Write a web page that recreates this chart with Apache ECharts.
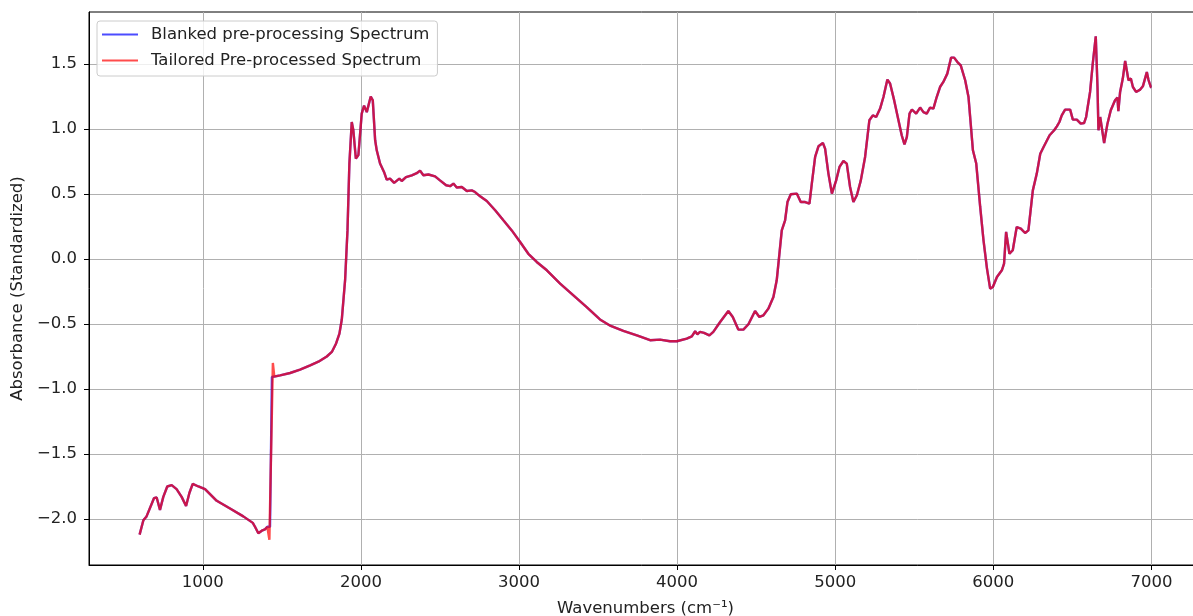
<!DOCTYPE html>
<html>
<head>
<meta charset="utf-8">
<script src="https://cdn.jsdelivr.net/npm/echarts@6.0.0/dist/echarts.min.js"></script>
<style>
html,body{margin:0;padding:0;background:#fff;}
#chart{width:1193px;height:616px;}
</style>
</head>
<body>
<div id="chart"></div>
<script>
// ---- Data ----
const seriesNames = ['Blanked pre-processing Spectrum', 'Tailored Pre-processed Spectrum'];

// Shared spectrum before the step near 1430 cm-1
const lowWn  = [600,624,644,691,708,729,750,775,803,834,866,894,915,936,972,1014,1088,1172,1256,1316,1330,1351,1373,1393,1408];
const lowAbs = [-2.12,-2.01,-1.98,-1.84,-1.835,-1.93,-1.83,-1.75,-1.74,-1.77,-1.83,-1.90,-1.80,-1.73,-1.75,-1.77,-1.86,-1.92,-1.98,-2.03,-2.06,-2.11,-2.09,-2.08,-2.06];

// Step region, different in each series
const blankStepWn  = [1425,1431,1437];
const blankStepAbs = [-2.06,-2.06,-0.908];
const tailStepWn   = [1419,1421,1443,1452];
const tailStepAbs  = [-2.07,-2.16,-0.80,-0.905];

// Shared spectrum after the step
const highWn = [1489,1552,1615,1679,1731,1784,1816,1843,1864,1879,1900,1915,1927,1942,1952,1968,1984,2005,2020,2037,2062,2075,2090,2100,2121,2146,2163,2184,2210,2243,2258,2285,2322,2353,2374,2395,2427,2469,2500,2539,2564,2585,2606,2638,2670,2701,2722,2754,2796,2849,2901,2954,3007,3059,3112,3176,3260,3344,3428,3512,3580,3660,3750,3829,3892,3955,3998,4061,4093,4114,4128,4145,4170,4204,4229,4272,4324,4352,4387,4419,4451,4493,4520,4546,4577,4609,4630,4647,4662,4683,4698,4719,4757,4782,4810,4837,4852,4873,4894,4922,4936,4957,4979,5006,5027,5052,5073,5094,5115,5137,5162,5189,5216,5238,5259,5284,5305,5330,5347,5373,5400,5421,5438,5453,5470,5485,5512,5537,5558,5579,5600,5621,5642,5663,5684,5709,5733,5752,5773,5794,5822,5843,5871,5892,5917,5938,5960,5980,5997,6023,6054,6068,6081,6102,6123,6148,6174,6201,6222,6250,6275,6297,6318,6356,6385,6402,6418,6433,6454,6486,6503,6528,6553,6574,6587,6612,6629,6648,6659,6665,6676,6686,6701,6722,6743,6770,6785,6791,6802,6819,6834,6855,6870,6883,6903,6929,6946,6971,6981,6996,7000];
const highAbs = [-0.895,-0.877,-0.851,-0.818,-0.79,-0.75,-0.715,-0.65,-0.574,-0.466,-0.16,0.22,0.734,1.054,0.99,0.772,0.80,1.118,1.18,1.13,1.25,1.22,0.913,0.836,0.734,0.67,0.61,0.618,0.585,0.618,0.60,0.63,0.644,0.66,0.68,0.644,0.65,0.636,0.605,0.567,0.56,0.58,0.55,0.554,0.523,0.528,0.515,0.482,0.446,0.375,0.298,0.22,0.131,0.04,-0.023,-0.087,-0.19,-0.28,-0.37,-0.465,-0.515,-0.553,-0.59,-0.625,-0.62,-0.633,-0.633,-0.612,-0.595,-0.556,-0.579,-0.561,-0.569,-0.587,-0.561,-0.485,-0.40,-0.446,-0.543,-0.543,-0.502,-0.40,-0.446,-0.433,-0.382,-0.292,-0.164,0.04,0.22,0.298,0.438,0.498,0.503,0.438,0.438,0.426,0.58,0.785,0.867,0.892,0.849,0.657,0.503,0.605,0.708,0.754,0.734,0.554,0.438,0.49,0.605,0.785,1.067,1.105,1.092,1.157,1.246,1.38,1.35,1.22,1.067,0.95,0.882,0.938,1.118,1.15,1.118,1.165,1.13,1.118,1.165,1.157,1.246,1.323,1.362,1.426,1.549,1.549,1.515,1.49,1.375,1.246,0.836,0.734,0.40,0.144,-0.074,-0.228,-0.215,-0.138,-0.087,-0.035,0.208,0.04,0.067,0.246,0.234,0.20,0.22,0.528,0.657,0.81,0.862,0.952,0.99,1.02,1.054,1.105,1.149,1.149,1.072,1.072,1.041,1.046,1.092,1.285,1.503,1.713,1.323,0.99,1.092,1.092,0.892,1.041,1.144,1.221,1.241,1.138,1.285,1.388,1.523,1.375,1.388,1.323,1.285,1.303,1.328,1.438,1.38,1.323,1.32];

const xTicks = [1000,2000,3000,4000,5000,6000,7000];
const yTicks = [-2.0,-1.5,-1.0,-0.5,0.0,0.5,1.0,1.5];
const xName = 'Wavenumbers (cm\u207B\u00B9)';
const yName = 'Absorbance (Standardized)';

// ---- Build series ----
function pairs(xs, ys){ return xs.map((x,i)=>[x, ys[i]]); }
const blankedData = pairs(lowWn, lowAbs).concat(pairs(blankStepWn, blankStepAbs), pairs(highWn, highAbs));
const tailoredData = pairs(lowWn, lowAbs).concat(pairs(tailStepWn, tailStepAbs), pairs(highWn, highAbs));

const FONT = 'DejaVu Sans';
const FS = 16.5;
const minus = v => (v < 0 ? '\u2212' : '') + Math.abs(v).toFixed(1);

const chart = echarts.init(document.getElementById('chart'), null, {renderer:'canvas'});
chart.setOption({
  animation: false,
  backgroundColor: '#ffffff',
  textStyle: {fontFamily: FONT},
  grid: {left: 89, top: 12, right: -9, bottom: 51, outerBoundsMode: 'none', containLabel: false,
         show: true, borderColor: '#000', borderWidth: 1, backgroundColor: 'transparent'},
  legend: {
    orient: 'vertical', left: 97, top: 21,
    data: [
      {name: seriesNames[0], icon: 'rect', itemStyle: {color: 'rgba(0,0,255,0.7)'}},
      {name: seriesNames[1], icon: 'rect', itemStyle: {color: 'rgba(255,0,0,0.7)'}}
    ],
    itemWidth: 36, itemHeight: 2, itemGap: 7,
    padding: [4, 8, 6, 5],
    backgroundColor: 'rgba(255,255,255,0.8)',
    borderColor: '#cccccc', borderWidth: 1, borderRadius: 3,
    textStyle: {fontFamily: FONT, fontSize: FS, color: '#222', lineHeight: 19, padding: [0,0,0,8]}
  },
  xAxis: {
    type: 'value', min: 280, max: 7320,
    name: xName, nameLocation: 'middle', nameGap: 35,
    nameTextStyle: {fontFamily: FONT, fontSize: FS, color: '#222'},
    axisLine: {show: true, onZero: false, lineStyle: {color: '#000', width: 1}},
    axisTick: {show: true, length: 5, customValues: xTicks, lineStyle: {color: '#000'}},
    axisLabel: {customValues: xTicks, margin: 9, fontFamily: FONT, fontSize: FS, color: '#222', formatter: v => String(v)},
    splitLine: {show: true, lineStyle: {color: '#b0b0b0', width: 1}}
  },
  yAxis: {
    type: 'value', min: -2.354, max: 1.9,
    name: yName, nameLocation: 'middle', nameGap: 61, nameRotate: 90,
    nameTextStyle: {fontFamily: FONT, fontSize: FS, color: '#222'},
    axisLine: {show: true, onZero: false, lineStyle: {color: '#000', width: 1}},
    axisTick: {show: true, length: 5, customValues: yTicks, lineStyle: {color: '#000'}},
    axisLabel: {customValues: yTicks, margin: 12, fontFamily: FONT, fontSize: FS, color: '#222', formatter: minus},
    splitLine: {show: true, lineStyle: {color: '#b0b0b0', width: 1}}
  },
  series: [
    {name: seriesNames[0], type: 'line', data: blankedData, showSymbol: false, symbol: 'none',
     lineStyle: {color: 'blue', width: 2.4, opacity: 0.7}, itemStyle: {color: 'blue'}},
    {name: seriesNames[1], type: 'line', data: tailoredData, showSymbol: false, symbol: 'none',
     lineStyle: {color: 'red', width: 2.4, opacity: 0.7}, itemStyle: {color: 'red'}}
  ]
});
</script>
</body>
</html>
